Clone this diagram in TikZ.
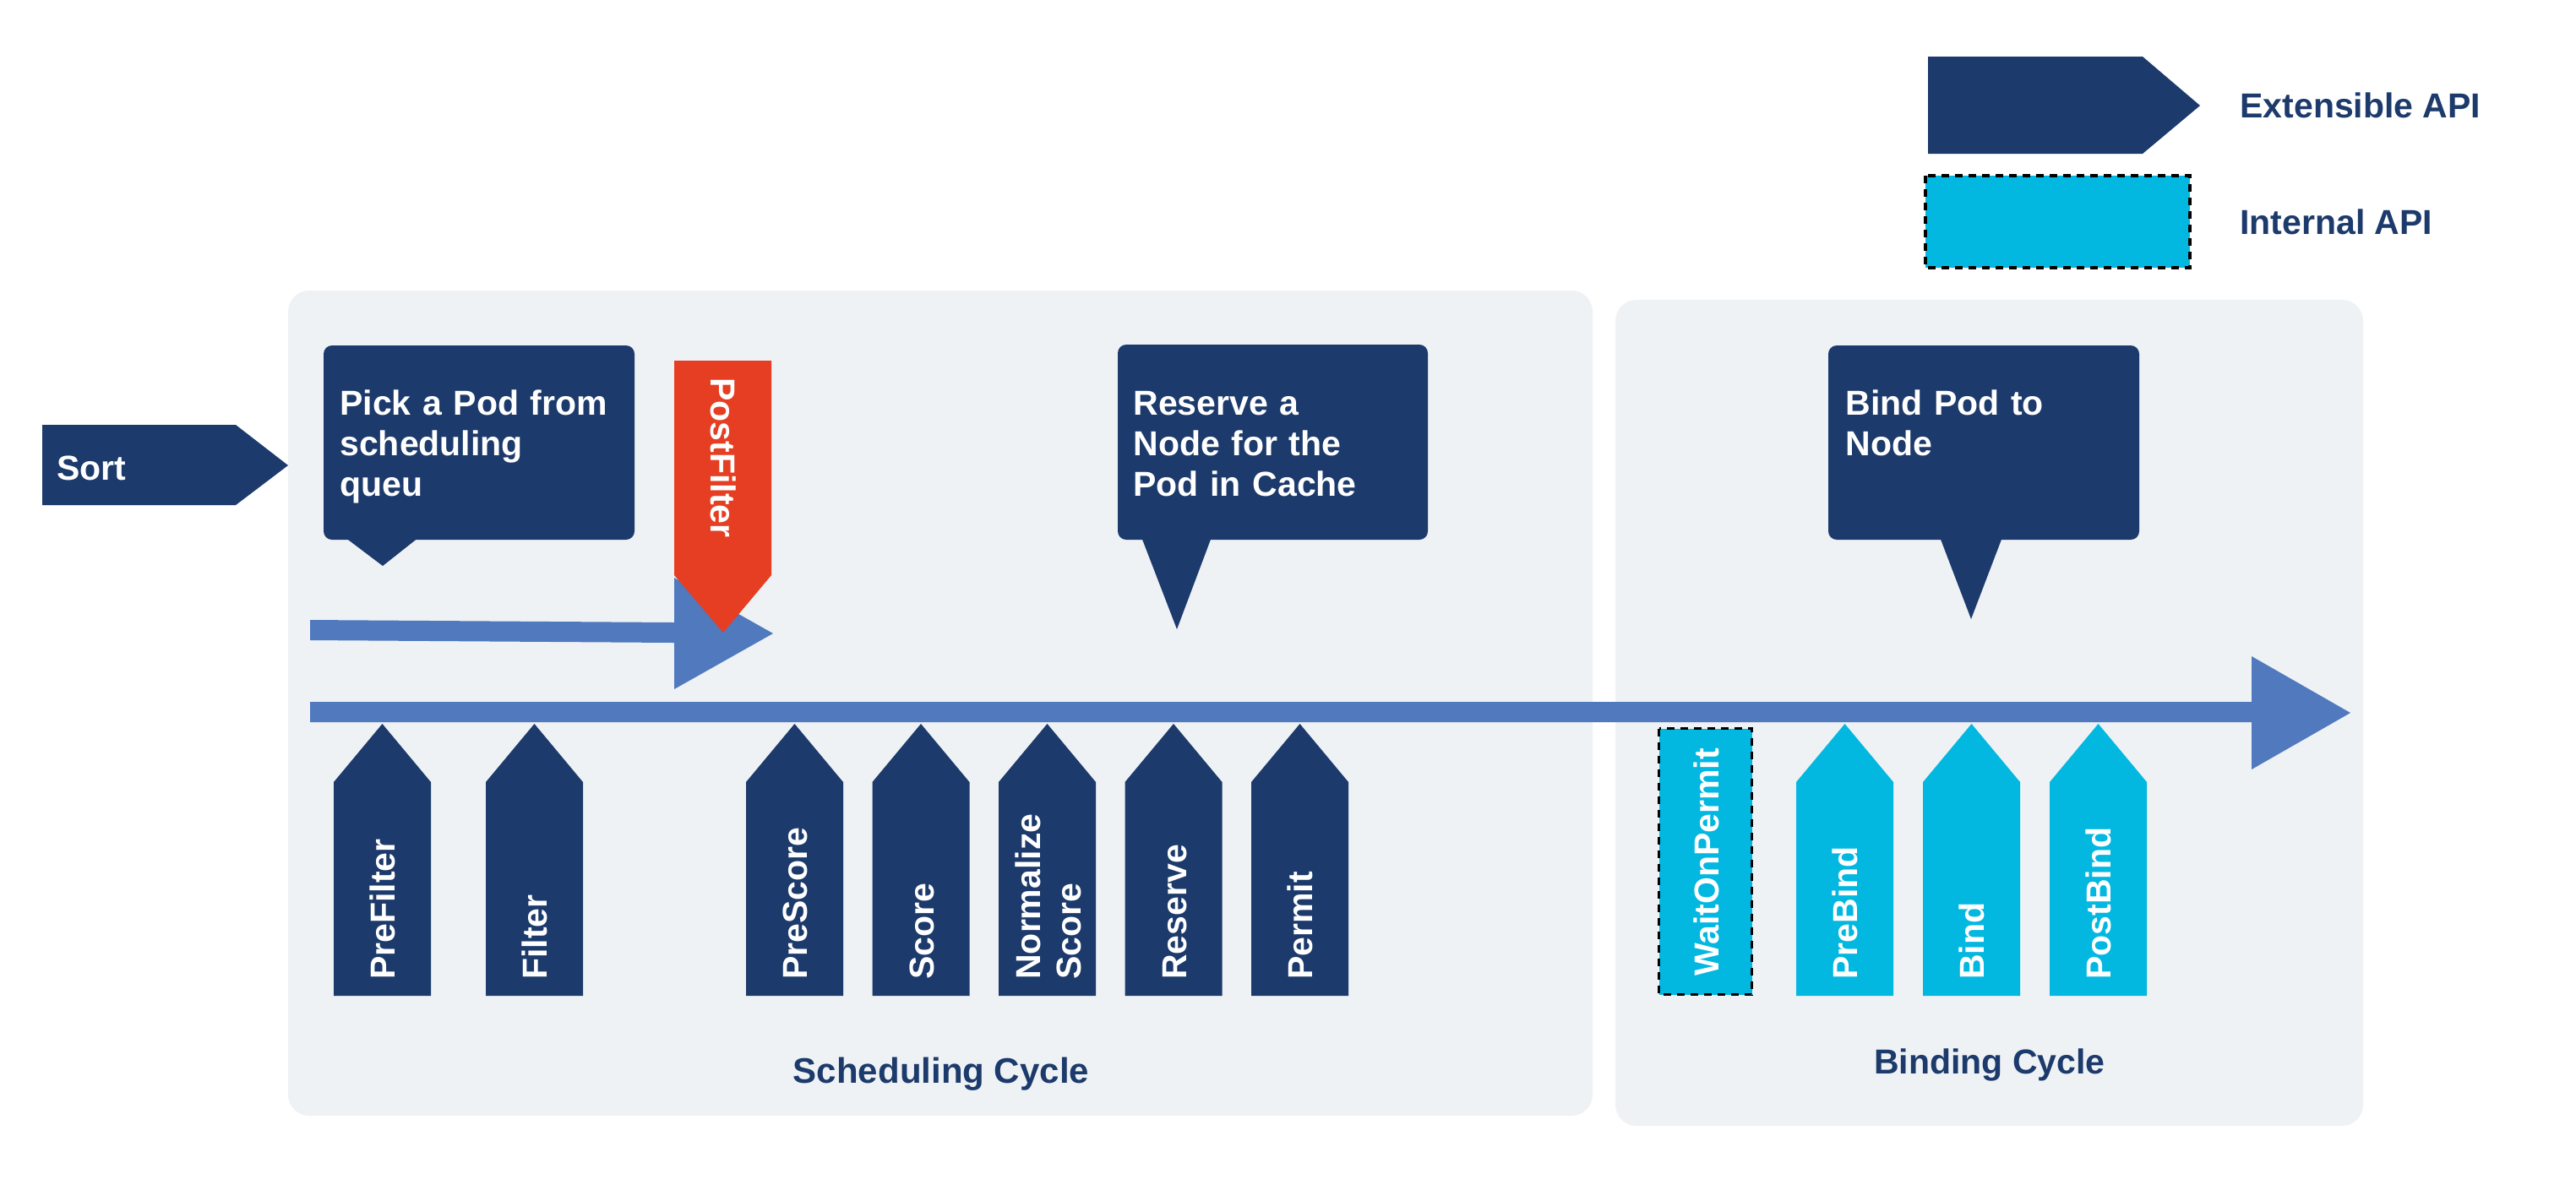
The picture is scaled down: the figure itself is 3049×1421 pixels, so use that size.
\documentclass[tikz,border=0pt]{standalone}
\usepackage{fontspec}
\setmainfont{Liberation Sans}
\definecolor{navy}{HTML}{1C3A6B}
\definecolor{flow}{HTML}{5079BE}
\definecolor{postred}{HTML}{E63E22}
\definecolor{cyanapi}{HTML}{03B8E0}
\definecolor{panelbg}{HTML}{EEF2F5}
\newcommand\stageup[5]{%
  \fill[#3] (#2,1179) -- (#2,926) -- ({#2+57.5},857) -- ({#2+115},926) -- ({#2+115},1179) -- cycle;
  \node[lbl, rotate=90, anchor=base west] (#1) at (#4,1160) {#5};
}
\begin{document}
\begin{tikzpicture}[x=0.5pt,y=-0.5pt,
  lbl/.style={font=\fontsize{20.5}{24}\selectfont\bfseries, text=white, inner sep=0pt},
  ttl/.style={font=\fontsize{20.5}{24}\selectfont\bfseries, text=navy, inner sep=0pt},
  panelbox/.style={fill=panelbg, rounded corners=12.5pt},
  callout/.style={fill=navy, rounded corners=5pt},
  internal/.style={fill=cyanapi, draw=black, line width=1.75pt, dash pattern=on 4.5pt off 3.5pt}]
\useasboundingbox[fill=white] (0,0) rectangle (3049,1421);

% panels
\fill[panelbox] (341,344) rectangle (1885,1321);
\fill[panelbox] (1912,355) rectangle (2797,1333);
\node[ttl, font=\fontsize{21}{24}\selectfont\bfseries, anchor=base] (schedcycle) at (1114,1282) {Scheduling Cycle};
\node[ttl, anchor=base] (bindcycle) at (2355,1271) {Binding Cycle};

% legend
\fill[navy] (2282,67) -- (2536,67) -- (2604,125) -- (2536,182) -- (2282,182) -- cycle;
\node[ttl, anchor=base west] (extapi) at (2651,139) {Extensible API};
\path[internal] (2279,208) rectangle (2592,317);
\node[ttl, anchor=base west] (intapi) at (2651,277) {Internal API};

% sort
\fill[navy] (50,503) -- (279,503) -- (341,551) -- (279,598) -- (50,598) -- cycle;
\node[lbl, anchor=base west] (sort) at (67,568) {Sort};

% callouts
\fill[callout] (383,409) rectangle (751,639);
\fill[navy] (408,636) -- (453,670) -- (496,636) -- cycle;
\node[lbl, anchor=base west, text width=175pt, align=left] (pick) at (402,491) {Pick a Pod from\\scheduling\\queu};

\fill[callout] (1323,408) rectangle (1690,639);
\fill[navy] (1351,636) -- (1393,745) -- (1434,636) -- cycle;
\node[lbl, anchor=base west, text width=170pt, align=left] (reservenode) at (1341,491) {Reserve a\\Node for the\\Pod in Cache};

\fill[callout] (2164,409) rectangle (2532,639);
\fill[navy] (2296,636) -- (2333,733) -- (2370,636) -- cycle;
\node[lbl, anchor=base west, text width=170pt, align=left] (bindnode) at (2184,491) {Bind Pod to\\Node};

% flow arrows
\fill[flow] (367,734) -- (798,737) -- (798,684) -- (915,750) -- (798,816) -- (798,761) -- (367,758) -- cycle;
\fill[flow] (367,831) -- (2665,831) -- (2665,777) -- (2782,844) -- (2665,911) -- (2665,855) -- (367,855) -- cycle;

% postfilter
\fill[postred] (798,427) -- (913,427) -- (913,681) -- (856,749) -- (798,681) -- cycle;
\node[lbl, rotate=-90, anchor=base west] (postfilter) at (841,447) {PostFilter};

% extension points
\stageup{prefilter}{395}{navy}{467.5}{PreFilter}
\stageup{filter}{575}{navy}{647.5}{Filter}
\stageup{prescore}{883}{navy}{955.5}{PreScore}
\stageup{score}{1032.5}{navy}{1105}{Score}
\fill[navy] (1182,1179) -- (1182,926) -- (1239.5,857) -- (1297,926) -- (1297,1179) -- cycle;
\node[lbl, rotate=90, anchor=base west, text width=150pt, align=left] (normalize) at (1231,1160) {Normalize\\Score};
\stageup{reserve}{1331.5}{navy}{1404}{Reserve}
\stageup{permit}{1481}{navy}{1553.5}{Permit}

\path[internal] (1963.5,862.5) rectangle (2073.5,1177.5);
\node[lbl, rotate=90, anchor=base west] (waitonpermit) at (2034,1156) {WaitOnPermit};
\stageup{prebind}{2126}{cyanapi}{2198.5}{PreBind}
\stageup{bind}{2276}{cyanapi}{2348.5}{Bind}
\stageup{postbind}{2426}{cyanapi}{2498.5}{PostBind}
\end{tikzpicture}
\end{document}
